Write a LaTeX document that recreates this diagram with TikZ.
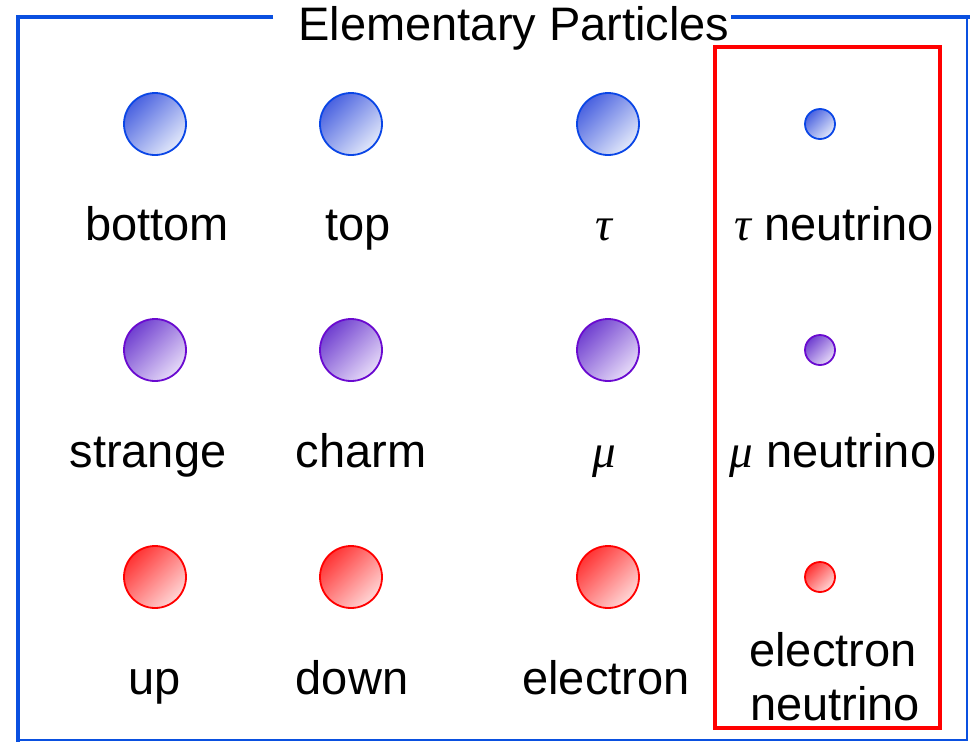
\documentclass[tikz,border=0pt]{standalone}
\usepackage{fontspec}
\setmainfont{Liberation Sans}
\newfontfamily\grk{Liberation Serif}
\newcommand{\gtau}{{\grk\itshape τ}}
\newcommand{\gmu}{{\grk\itshape μ}}
\definecolor{fblue}{HTML}{0A50E0}
\definecolor{pblue}{HTML}{0A46E6}
\definecolor{pblueD}{HTML}{4A62E0}
\definecolor{pblueL}{HTML}{E2E8FA}
\definecolor{ppur}{HTML}{6A0AD0}
\definecolor{ppurD}{HTML}{7040D0}
\definecolor{ppurL}{HTML}{E6DAF8}
\definecolor{pred}{HTML}{FF0000}
\definecolor{predD}{HTML}{FF3434}
\definecolor{predL}{HTML}{FFD6D6}
\tikzset{
  particle/.style={circle, inner sep=0pt, line width=1.8pt},
  bigp/.style={minimum size=62pt},
  smallp/.style={minimum size=30pt},
  bq/.style={particle, draw=pblue, top color=pblueD, bottom color=pblueL, shading angle=45},
  pq/.style={particle, draw=ppur, top color=ppurD, bottom color=ppurL, shading angle=45},
  rq/.style={particle, draw=pred, top color=predD, bottom color=predL, shading angle=45},
  lab/.style={font=\fontsize{47}{54}\selectfont, anchor=base, inner sep=0pt},
  framethick/.style={draw=fblue, line width=4pt},
  framethin/.style={draw=fblue, line width=1.6pt},
}
\begin{document}
\begin{tikzpicture}[x=1pt,y=-1pt]
\useasboundingbox (0,0) rectangle (970,742);
% outer frame
\coordinate (fa) at (273,17);
\coordinate (fb) at (18,17);
\coordinate (fc) at (18,742);
\coordinate (fd) at (731,17);
\coordinate (fe) at (970,17);
\coordinate (ff) at (18,740);
\coordinate (fg) at (967,740);
\coordinate (fh) at (967,17);
\draw[framethin] (ff) -- (fg) -- (fh);
\draw[framethick] (fa) -- (fb) -- (fc);
\draw[framethick] (fd) -- (fe);
\node[font=\fontsize{47}{54}\selectfont, inner sep=0pt] (title) at (514,28) {Elementary Particles};
% red box
\node[draw=red, line width=4pt, minimum width=225pt, minimum height=681pt, inner sep=0pt] (nubox) at (827.5,387.5) {};
% row 1
\node[bq,bigp] (c11) at (155,124) {};
\node[bq,bigp] (c12) at (351,124) {};
\node[bq,bigp] (c13) at (608,124) {};
\node[bq,smallp] (c14) at (820,124) {};
\node[lab] (l11) at (157,240) {bottom};
\node[lab] (l12) at (358,240) {top};
\node[lab] (l13) at (604,240) {\gtau};
\node[lab] (l14) at (834,240) {\gtau{} neutrino};
% row 2
\node[pq,bigp] (c21) at (155,350) {};
\node[pq,bigp] (c22) at (351,350) {};
\node[pq,bigp] (c23) at (608,350) {};
\node[pq,smallp] (c24) at (820,350) {};
\node[lab] (l21) at (148,467) {strange};
\node[lab] (l22) at (361,467) {charm};
\node[lab] (l23) at (604,467) {\gmu};
\node[lab] (l24) at (833,467) {\gmu{} neutrino};
% row 3
\node[rq,bigp] (c31) at (155,577) {};
\node[rq,bigp] (c32) at (351,577) {};
\node[rq,bigp] (c33) at (608,577) {};
\node[rq,smallp] (c34) at (820,577) {};
\node[lab] (l31) at (155,694) {up};
\node[lab] (l32) at (352,694) {down};
\node[lab] (l33) at (606,694) {electron};
\node[lab] (l34a) at (833,666) {electron};
\node[lab] (l34b) at (835,720) {neutrino};
\end{tikzpicture}
\end{document}
